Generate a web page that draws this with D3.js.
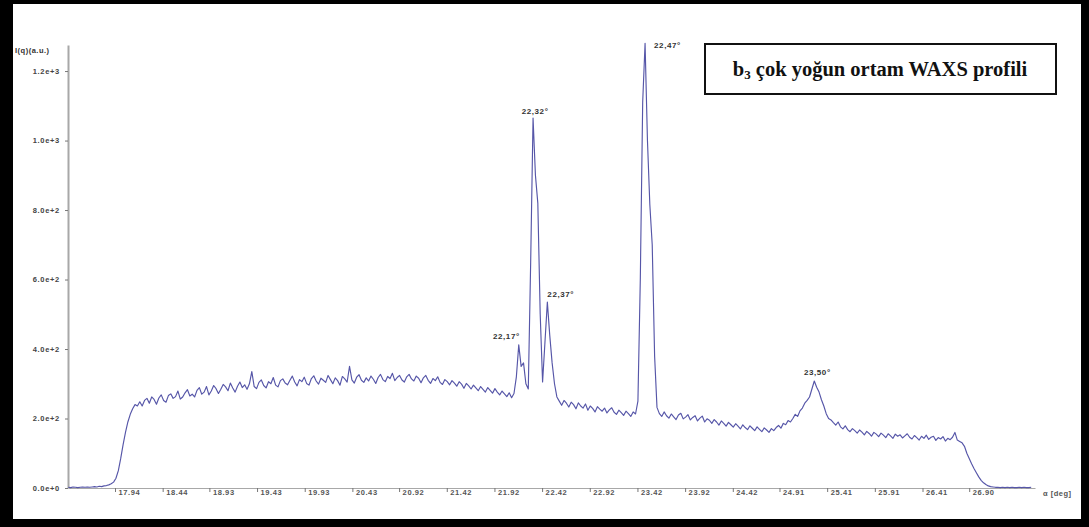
<!DOCTYPE html>
<html>
<head>
<meta charset="utf-8">
<script src="https://cdn.jsdelivr.net/npm/d3@7"></script>
<style>
  html, body { margin: 0; padding: 0; background: #fff; }
  svg { display: block; }
</style>
</head>
<body>
<svg id="chart" width="1089" height="527"></svg>
<script>
// WAXS intensity profile, sampled every 0.025 deg starting at 17.45 deg
const angleStart = 17.45;
const angleStep = 0.025;
const intensity = [
  2, 1, 3, 2, 1, 2, 3, 2, 3, 2,
  3, 4, 3, 5, 4, 6, 7, 9, 12, 17,
  28, 50, 85, 125, 160, 190, 212, 228, 240, 236,
  248, 236, 252, 258, 244, 262, 255, 241, 259, 268,
  252, 247, 266, 271, 258, 263, 279, 256, 262, 274,
  283, 265, 270, 262, 281, 289, 270, 276, 292, 268,
  279, 295, 286, 272, 284, 298, 291, 280, 302, 288,
  276, 293, 305, 289, 297, 284, 300, 335, 292, 286,
  304, 311, 295, 288, 306, 300, 318, 296, 291, 309,
  314, 302, 297, 310, 322, 305, 294, 312, 306, 319,
  301, 296, 315, 323, 308, 299, 316, 310, 304, 324,
  312, 300, 317, 309, 296, 321, 314, 305, 350, 311,
  302, 319, 326, 310, 304, 317, 308, 322, 313, 301,
  318, 327, 312, 306, 321, 315, 330, 309, 318, 324,
  311, 305, 320, 327, 314, 308, 322, 316, 303, 317,
  324, 310, 301, 315, 309, 320, 304, 298, 312, 306,
  297, 309, 302, 293, 306, 299, 287, 301, 294, 285,
  296, 288, 280, 292, 284, 276, 289, 281, 273, 286,
  276, 268, 279, 271, 263, 274, 260, 272, 320, 412,
  350, 360, 300, 285, 650, 1065, 900, 820, 500, 305,
  420, 535, 440, 360, 300, 262, 250, 238, 252, 244,
  233, 247, 240, 228, 245, 236, 230, 242, 224, 236,
  229, 219, 234, 227, 221, 230, 216, 225, 231, 218,
  212, 224, 217, 209, 221, 214, 206, 219, 213, 250,
  600, 1110, 1280, 1000, 815, 700, 380, 232, 214, 206,
  219, 208, 201, 213, 205, 197, 210, 215, 199, 204,
  211, 196, 203, 208, 193, 201, 207, 190, 199, 195,
  186, 197, 190, 181, 193, 186, 178, 189, 182, 175,
  185, 178, 170, 182, 174, 168, 179, 172, 165, 176,
  169, 162, 173, 167, 160, 171, 165, 174, 180, 172,
  186, 182, 194, 190, 200, 212, 206, 222, 230, 244,
  252, 262, 285, 308, 290, 276, 254, 236, 214, 200,
  196, 188, 181, 190, 176, 170, 179, 168, 162, 171,
  165, 158, 167, 161, 153, 163, 157, 149, 160, 155,
  148, 158, 152, 145, 156, 150, 143, 155, 149, 153,
  144, 150, 156, 146, 141, 151, 145, 138, 149, 143,
  152, 140, 146, 149, 137, 145, 141, 148, 135, 143,
  139, 146, 160, 138, 134, 130, 120, 100, 85, 70,
  56, 44, 32, 22, 15, 10, 6, 4, 3, 2,
  2, 1, 2, 1, 2, 1, 2, 1, 1, 2,
  1, 2, 1, 1, 2
];

// axis ticks
const xTicks = [17.94, 18.44, 18.93, 19.43, 19.93, 20.43, 20.92, 21.42, 21.92, 22.42,
                22.92, 23.42, 23.92, 24.42, 24.91, 25.41, 25.91, 26.41, 26.90];
const yTicks = [0, 200, 400, 600, 800, 1000, 1200];
const yTickLabels = ["0.0e+0", "2.0e+2", "4.0e+2", "6.0e+2", "8.0e+2", "1.0e+3", "1.2e+3"];

// peak annotations: sample index of the peak and its label
const peakIndex = [189, 195, 201, 242, 313];
const peakLabels = ["22,17°", "22,32°", "22,37°", "22,47°", "23,50°"];

const titleText = "çok yoğun ortam WAXS profili";
const yAxisTitle = "I(q)(a.u.)";
const xAxisTitle = "α [deg]";

const svg = d3.select("#chart");
const W = 1089, H = 527;

const points = intensity.map((v, i) => ({ a: angleStart + i * angleStep, v }));

const x = d3.scaleLinear().domain([17.447, 27.59]).range([68, 1035]);
const y = d3.scaleLinear().domain([0, 1275]).range([488, 45]);

svg.append("rect").attr("width", W).attr("height", H).attr("fill", "#fff");

// axes (grey, thin)
const axisColor = "#a8a8a8";
const labelFont = "'Liberation Sans', Arial, sans-serif";

const gx = svg.append("g").attr("transform", "translate(0,488)");
gx.call(d3.axisBottom(x).tickValues(xTicks).tickSize(4).tickSizeOuter(0)
  .tickFormat(d3.format(".2f")));
gx.select(".domain").attr("stroke", axisColor).attr("stroke-width", 1.2);
gx.selectAll(".tick line").attr("stroke", "#777");
gx.selectAll(".tick text")
  .attr("text-anchor", "start").attr("x", 3).attr("y", 2).attr("dy", "0.71em")
  .attr("font-family", labelFont).attr("font-size", 7.5).attr("font-weight", "bold")
  .attr("letter-spacing", 0.6).attr("fill", "#555");

const gy = svg.append("g").attr("transform", "translate(68,0)");
gy.call(d3.axisLeft(y).tickValues(yTicks).tickSize(3).tickSizeOuter(0)
  .tickFormat((d, i) => yTickLabels[i]));
gy.select(".domain").attr("stroke", axisColor).attr("stroke-width", 2);
gy.selectAll(".tick line").attr("stroke", "#777");
gy.selectAll(".tick text")
  .attr("x", -8)
  .attr("font-family", labelFont).attr("font-size", 7.5).attr("font-weight", "bold")
  .attr("letter-spacing", 0.7).attr("fill", "#444");

// axis titles
svg.append("text").attr("x", 15).attr("y", 53)
  .attr("font-family", labelFont).attr("font-size", 7.5).attr("font-weight", "bold")
  .attr("letter-spacing", 0.5).attr("fill", "#333").text(yAxisTitle);
svg.append("text").attr("x", 1043).attr("y", 496)
  .attr("font-family", labelFont).attr("font-size", 7.5).attr("font-weight", "bold")
  .attr("letter-spacing", 0.5).attr("fill", "#555").text(xAxisTitle);

// profile line
const line = d3.line().x(d => x(d.a)).y(d => y(d.v));
svg.append("path").datum(points)
  .attr("fill", "none").attr("stroke", "#5656a8").attr("stroke-width", 1.15)
  .attr("stroke-linejoin", "round").attr("d", line);

// peak labels: placement relative to each peak (anchor, dx, dy)
const labelPlacement = [
  { anchor: "end", dx: 1, dy: -6 },
  { anchor: "middle", dx: 2, dy: -4 },
  { anchor: "start", dx: 0, dy: -5 },
  { anchor: "start", dx: 9, dy: 5 },
  { anchor: "middle", dx: 3, dy: -6 }
];
peakIndex.forEach((idx, k) => {
  const p = points[idx];
  const pl = labelPlacement[k];
  svg.append("text")
    .attr("x", x(p.a) + pl.dx).attr("y", y(p.v) + pl.dy)
    .attr("text-anchor", pl.anchor)
    .attr("font-family", labelFont).attr("font-size", 8).attr("font-weight", "bold")
    .attr("letter-spacing", 0.6).attr("fill", "#333")
    .text(peakLabels[k]);
});

// title box
svg.append("rect").attr("x", 705).attr("y", 44).attr("width", 351).attr("height", 50)
  .attr("fill", "#fff").attr("stroke", "#111").attr("stroke-width", 2);
const title = svg.append("text").attr("x", 880).attr("y", 76)
  .attr("text-anchor", "middle")
  .attr("font-family", "'Liberation Serif', 'Times New Roman', serif")
  .attr("font-size", 20.5).attr("font-weight", "bold").attr("fill", "#111");
title.append("tspan").text("b");
title.append("tspan").attr("font-size", 13).attr("dy", 3).text("3");
title.append("tspan").attr("dy", -3).text(" " + titleText);

// black picture frame
const frame = svg.append("g").attr("fill", "#000");
frame.append("rect").attr("x", 0).attr("y", 0).attr("width", 13).attr("height", H);
frame.append("rect").attr("x", 0).attr("y", 0).attr("width", W).attr("height", 4);
frame.append("rect").attr("x", 1081).attr("y", 0).attr("width", 8).attr("height", H);
frame.append("rect").attr("x", 0).attr("y", 519).attr("width", W).attr("height", 8);
</script>
</body>
</html>
